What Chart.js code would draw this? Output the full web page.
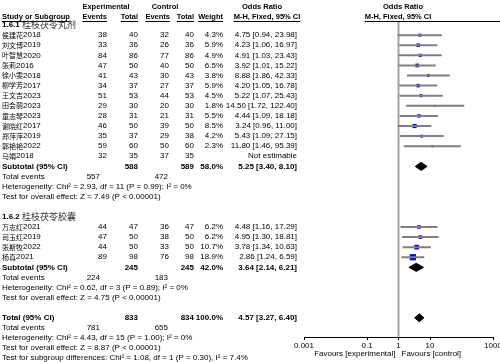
<!DOCTYPE html>
<html>
<head>
<meta charset="utf-8">
<script src="https://cdn.jsdelivr.net/npm/chart.js@4.4.1/dist/chart.umd.min.js"></script>
<style>
html, body { margin: 0; padding: 0; background: #fff; }
</style>
</head>
<body>
<canvas id="chart" width="500" height="362"></canvas>
<script>
// subgroup 1.6.1
const group1 = '桂枝茯苓丸剂';
const studies1 = ['侯建花2018', '刘文博2019', '叶智慧2020', '张莉2016', '徐小雯2018', '柳学芳2017', '王文吉2023', '田会丽2023', '童志琴2023', '谢晓红2017', '郑萍萍2019', '郭艳艳2022', '马娟2018'];
const expEv1 = [38, 33, 84, 47, 41, 34, 51, 29, 28, 46, 35, 59, 32];
const expTot1 = [40, 36, 86, 50, 43, 37, 53, 30, 31, 50, 37, 60, 35];
const ctlEv1 = [32, 26, 77, 40, 30, 27, 44, 20, 21, 39, 29, 50, 37];
const ctlTot1 = [40, 36, 86, 50, 43, 37, 53, 30, 31, 50, 38, 60, 35];
const weight1 = [4.3, 5.9, 4.9, 6.5, 3.8, 5.9, 4.5, 1.8, 5.5, 8.5, 4.2, 2.3, null];
const or1 = [4.75, 4.23, 4.91, 3.92, 8.88, 4.20, 5.22, 14.50, 4.44, 3.24, 5.43, 11.80, null];
const lo1 = [0.94, 1.06, 1.03, 1.01, 1.86, 1.05, 1.07, 1.72, 1.09, 0.96, 1.09, 1.46, null];
const hi1 = [23.98, 16.97, 23.43, 15.22, 42.33, 16.78, 25.43, 122.40, 18.18, 11.00, 27.15, 95.39, null];

// subgroup 1.6.2
const group2 = '桂枝茯苓胶囊';
const studies2 = ['万志红2021', '司玉红2019', '张斯牧2022', '杨真2021'];
const expEv2 = [44, 47, 44, 89];
const expTot2 = [47, 50, 50, 98];
const ctlEv2 = [36, 38, 33, 76];
const ctlTot2 = [47, 50, 50, 98];
const weight2 = [6.2, 6.2, 10.7, 18.9];
const or2 = [4.48, 4.95, 3.78, 2.86];
const lo2 = [1.16, 1.30, 1.34, 1.24];
const hi2 = [17.29, 18.81, 10.63, 6.59];

// subtotals: [1.6.1, 1.6.2, overall]
const sumExpTot = [588, 245, 833];
const sumCtlTot = [589, 245, 834];
const sumWeight = ['58.0%', '42.0%', '100.0%'];
const sumOr = [5.25, 3.64, 4.57];
const sumLo = [3.40, 2.14, 3.27];
const sumHi = [8.10, 6.21, 6.40];
const sumExpEv = [557, 224, 781];
const sumCtlEv = [472, 183, 655];
const hetText = [
  'Heterogeneity: Chi² = 2.93, df = 11 (P = 0.99); I² = 0%',
  'Heterogeneity: Chi² = 0.62, df = 3 (P = 0.89); I² = 0%',
  'Heterogeneity: Chi² = 4.43, df = 15 (P = 1.00); I² = 0%'
];
const effText = [
  'Test for overall effect: Z = 7.49 (P < 0.00001)',
  'Test for overall effect: Z = 4.75 (P < 0.00001)',
  'Test for overall effect: Z = 8.87 (P < 0.00001)'
];
const subgroupText = 'Test for subgroup differences: Chi² = 1.08, df = 1 (P = 0.30), I² = 7.4%';

const tickVals = [0.001, 0.1, 1, 10, 1000];
const tickText = ['0.001', '0.1', '1', '10', '1000'];

// row numbers (y scale is in rows)
const rows1 = studies1.map((s, i) => 1 + i);
const rows2 = studies2.map((s, i) => 20 + i);
const sumRows = [14, 24, 29];

const FONT = '"Liberation Sans", Arial, sans-serif';
const CJK = '"Noto Sans CJK SC", sans-serif';

function ciData(lo, hi, rows) {
  const out = [];
  lo.forEach((l, i) => {
    if (l == null) return;
    out.push({x: l, y: rows[i]}, {x: hi[i], y: rows[i]}, {x: hi[i], y: null});
  });
  return out;
}
function pointData(or, rows) {
  return or.map((v, i) => v == null ? null : {x: v, y: rows[i]}).filter(p => p);
}
function diamond(k) {
  const r = sumRows[k];
  return [
    {x: sumLo[k], y: r}, {x: sumOr[k], y: r - 0.4}, {x: sumHi[k], y: r},
    {x: sumOr[k], y: r + 0.4}, {x: sumLo[k], y: r}
  ];
}
const wAll = weight1.filter(w => w != null).concat(weight2);

function put(ctx, s, x, y, align, bold, size) {
  ctx.font = (bold ? 'bold ' : '') + (size || 8) + 'px ' + FONT;
  ctx.textAlign = align;
  ctx.fillText(s, x, y);
}
function under(ctx, s, x, y, align) {
  ctx.font = 'bold 7.5px ' + FONT;
  const w = ctx.measureText(s).width;
  const x0 = align === 'left' ? x : align === 'right' ? x - w : x - w / 2;
  ctx.fillRect(x0, y + 4, w, 1);
}
function studyName(ctx, s, x, y) {
  const m = s.match(/^(\D+)(\d+)$/);
  ctx.textAlign = 'left';
  ctx.font = '7px ' + CJK;
  ctx.fillText(m[1], x, y);
  const w = ctx.measureText(m[1]).width;
  ctx.font = '8px ' + FONT;
  ctx.fillText(m[2], x + w, y);
}
function heading(ctx, num, label, y) {
  ctx.textAlign = 'left';
  ctx.font = 'bold 8px ' + FONT;
  ctx.fillText(num, 2, y);
  const w = ctx.measureText(num + ' ').width;
  ctx.font = '9px ' + CJK;
  ctx.fillStyle = '#333';
  ctx.fillText(label, 2 + w, y);
  ctx.fillStyle = '#000';
}
const fmt = v => v.toFixed(2);
const ciStr = (o, l, h) => fmt(o) + ' [' + fmt(l) + ', ' + fmt(h) + ']';

const tablePlugin = {
  id: 'table',
  beforeDatasetsDraw(chart) {
    const ctx = chart.ctx, xs = chart.scales.x, a = chart.chartArea;
    const x1 = xs.getPixelForValue(1);
    ctx.save();
    ctx.strokeStyle = '#a3a3a3';
    ctx.lineWidth = 2;
    ctx.beginPath();
    ctx.moveTo(x1, a.top);
    ctx.lineTo(x1, a.bottom);
    ctx.stroke();
    ctx.restore();
  },
  afterDraw(chart) {
    const ctx = chart.ctx, ys = chart.scales.y, xs = chart.scales.x;
    const Y = k => ys.getPixelForValue(k);
    ctx.save();
    ctx.fillStyle = '#000';
    ctx.textBaseline = 'middle';

    // header
    const h1 = 7, h2 = 17;
    put(ctx, 'Experimental', 106, h1, 'center', true, 7.5);
    put(ctx, 'Control', 165, h1, 'center', true, 7.5);
    put(ctx, 'Odds Ratio', 262, h1, 'center', true, 7.5);
    put(ctx, 'Odds Ratio', 403, h1, 'center', true, 7.5);
    const hdr = [['Study or Subgroup', 2, 'left'], ['Events', 107, 'right'], ['Total', 138, 'right'],
      ['Events', 170, 'right'], ['Total', 194, 'right'], ['Weight', 223, 'right'],
      ['M-H, Fixed, 95% CI', 267, 'center'], ['M-H, Fixed, 95% CI', 398, 'center']];
    hdr.forEach(([s, x, al]) => { put(ctx, s, x, h2, al, true, 7.5); under(ctx, s, x, h2, al); });
    ctx.fillRect(366, h2 + 4, 134, 1);

    const groups = [
      ['1.6.1', group1, 0, studies1, rows1, expEv1, expTot1, ctlEv1, ctlTot1, weight1, or1, lo1, hi1],
      ['1.6.2', group2, 19, studies2, rows2, expEv2, expTot2, ctlEv2, ctlTot2, weight2, or2, lo2, hi2]
    ];
    groups.forEach(([num, label, hr, st, rows, ee, et, ce, ct, w, or, lo, hi], g) => {
      heading(ctx, num, label, Y(hr));
      st.forEach((s, i) => {
        const y = Y(rows[i]);
        studyName(ctx, s, 2, y);
        put(ctx, String(ee[i]), 107, y, 'right');
        put(ctx, String(et[i]), 138, y, 'right');
        put(ctx, String(ce[i]), 169, y, 'right');
        put(ctx, String(ct[i]), 194, y, 'right');
        if (w[i] != null) put(ctx, w[i].toFixed(1) + '%', 223, y, 'right');
        put(ctx, or[i] == null ? 'Not estimable' : ciStr(or[i], lo[i], hi[i]), 297, y, 'right');
      });
    });

    [0, 1, 2].forEach(k => {
      const r = sumRows[k];
      put(ctx, k === 2 ? 'Total (95% CI)' : 'Subtotal (95% CI)', 2, Y(r), 'left', true);
      put(ctx, String(sumExpTot[k]), 138, Y(r), 'right', true);
      put(ctx, String(sumCtlTot[k]), 194, Y(r), 'right', true);
      put(ctx, sumWeight[k], 223, Y(r), 'right', true);
      put(ctx, ciStr(sumOr[k], sumLo[k], sumHi[k]), 297, Y(r), 'right', true);
      put(ctx, 'Total events', 2, Y(r + 1), 'left');
      put(ctx, String(sumExpEv[k]), 100, Y(r + 1), 'right');
      put(ctx, String(sumCtlEv[k]), 168, Y(r + 1), 'right');
      put(ctx, hetText[k], 2, Y(r + 2), 'left');
      put(ctx, effText[k], 2, Y(r + 3), 'left');
    });
    put(ctx, subgroupText, 2, Y(33), 'left');

    const x1 = xs.getPixelForValue(1);
    put(ctx, 'Favours [experimental]', x1 - 3, 354, 'right');
    put(ctx, 'Favours [control]', x1 + 3, 354, 'left');
    ctx.restore();
  }
};

new Chart(document.getElementById('chart'), {
  type: 'scatter',
  data: {
    datasets: [
      {
        type: 'line',
        data: ciData(lo1, hi1, rows1).concat(ciData(lo2, hi2, rows2)),
        borderColor: '#808080',
        borderWidth: 2,
        pointRadius: 0,
        spanGaps: false
      },
      {
        data: pointData(or1, rows1).concat(pointData(or2, rows2)),
        pointStyle: 'rect',
        pointRadius: wAll.map(w => 2.1 * Math.sqrt(w / 4.3)),
        backgroundColor: '#0000ee',
        borderWidth: 0
      },
      ...[0, 1, 2].map(k => ({
        type: 'line',
        data: diamond(k),
        borderColor: '#000',
        backgroundColor: '#000',
        borderWidth: 1,
        pointRadius: 0,
        fill: 'shape'
      }))
    ]
  },
  options: {
    responsive: false,
    animation: false,
    events: [],
    layout: { padding: { left: 304, right: 7, top: 21, bottom: 0 } },
    scales: {
      x: {
        type: 'logarithmic',
        min: 0.001,
        max: 1000,
        position: 'bottom',
        afterBuildTicks: s => { s.ticks = tickVals.map(v => ({value: v})); },
        afterFit: s => { s.height = 25; s.paddingLeft = 0; s.paddingRight = 0; },
        ticks: {
          callback: (v, i) => tickText[i],
          font: { family: FONT, size: 8 },
          color: '#000',
          padding: 1,
          maxRotation: 0,
          autoSkip: false
        },
        grid: { drawOnChartArea: false, tickLength: 3, color: '#000' },
        border: { color: '#000', width: 1 }
      },
      y: {
        type: 'linear',
        display: false,
        reverse: true,
        min: -0.4,
        max: 30.9
      }
    },
    plugins: {
      legend: { display: false },
      tooltip: { enabled: false }
    }
  },
  plugins: [tablePlugin]
});
</script>
</body>
</html>
